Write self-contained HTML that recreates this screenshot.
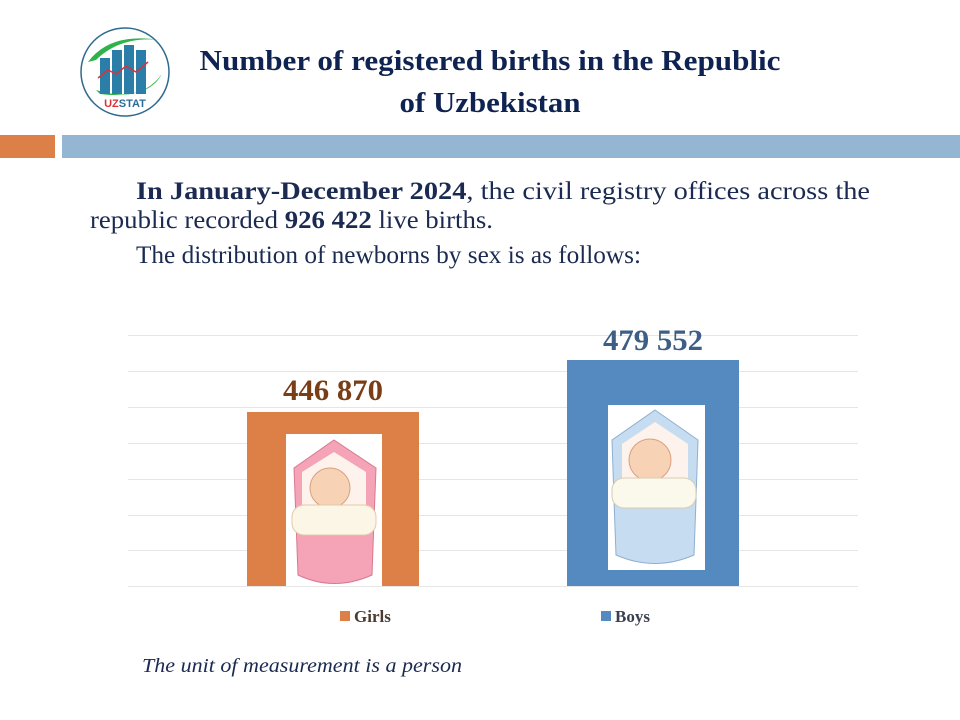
<!DOCTYPE html>
<html><head><meta charset="utf-8"><style>
html,body{margin:0;padding:0;background:#fff;}
svg{display:block;}
</style></head><body>
<svg width="960" height="720" viewBox="0 0 960 720" xmlns="http://www.w3.org/2000/svg" font-family="Liberation Serif, serif">
<rect width="960" height="720" fill="#fff"/>
<!-- logo -->
<circle cx="125" cy="72" r="44" fill="#fff" stroke="#2e6a8c" stroke-width="1.5"/>
<path d="M88 62 Q110 32 160 40 Q120 36 96 60 Z" fill="#2db34a"/>
<path d="M96 90 Q140 104 162 74 Q148 100 100 94 Z" fill="#2db34a"/>
<rect x="100" y="58" width="10" height="36" fill="#2a7ea8"/>
<rect x="112" y="50" width="10" height="44" fill="#2a7ea8"/>
<rect x="124" y="45" width="10" height="49" fill="#2a7ea8"/>
<rect x="136" y="50" width="10" height="44" fill="#2a7ea8"/>
<polyline points="98,78 108,70 116,74 126,66 136,72 148,62" fill="none" stroke="#d9333a" stroke-width="1.5"/>
<text x="125" y="107" text-anchor="middle" font-family="Liberation Sans, sans-serif" font-weight="bold" font-size="11"><tspan fill="#d9333a">UZ</tspan><tspan fill="#2a6d96">STAT</tspan></text>
<!-- title -->
<text x="490" y="70" text-anchor="middle" font-weight="bold" font-size="28" fill="#0f2352" textLength="581" lengthAdjust="spacingAndGlyphs">Number of registered births in the Republic</text>
<text x="490" y="112" text-anchor="middle" font-weight="bold" font-size="28" fill="#0f2352" textLength="181" lengthAdjust="spacingAndGlyphs">of Uzbekistan</text>
<rect x="0" y="135" width="55" height="23" fill="#dd8047"/>
<rect x="62" y="135" width="898" height="23" fill="#94b6d2"/>
<!-- body -->
<g font-size="25" fill="#1a2a50">
<text x="136" y="199" textLength="734" lengthAdjust="spacingAndGlyphs"><tspan font-weight="bold">In January-December 2024</tspan>, the civil registry offices across the</text>
<text x="90" y="228" textLength="403" lengthAdjust="spacingAndGlyphs">republic recorded <tspan font-weight="bold">926 422</tspan> live births.</text>
<text x="136" y="263" textLength="505" lengthAdjust="spacingAndGlyphs">The distribution of newborns by sex is as follows:</text>
</g>
<!-- grid -->
<g stroke="#e6e6e6" stroke-width="1">
<line x1="128" y1="335.5" x2="858" y2="335.5"/>
<line x1="128" y1="371.5" x2="858" y2="371.5"/>
<line x1="128" y1="407.5" x2="858" y2="407.5"/>
<line x1="128" y1="443.5" x2="858" y2="443.5"/>
<line x1="128" y1="479.5" x2="858" y2="479.5"/>
<line x1="128" y1="515.5" x2="858" y2="515.5"/>
<line x1="128" y1="550.5" x2="858" y2="550.5"/>
<line x1="128" y1="586.5" x2="858" y2="586.5"/>
</g>
<!-- bars -->
<rect x="247" y="412" width="172" height="174" fill="#dd8047"/>
<rect x="567" y="360" width="172" height="226" fill="#558ac0"/>
<!-- girl baby -->
<rect x="286" y="434" width="96" height="152" fill="#fff"/>
<path d="M334 440 L376 468 L374 520 L372 575 Q334 592 298 575 L296 520 L294 468 Z" fill="#f5a3b7" stroke="#d9788f"/>
<path d="M334 452 L366 472 L366 510 L302 510 L302 472 Z" fill="#fdf3ec"/>
<circle cx="330" cy="488" r="20" fill="#f7d2b5" stroke="#d9a080"/>
<rect x="292" y="505" width="84" height="30" rx="12" fill="#fbf6e6" stroke="#e3c9a8"/>
<!-- boy baby -->
<rect x="608" y="405" width="97" height="165" fill="#fff"/>
<path d="M655 410 L698 440 L696 500 L694 555 Q655 572 616 555 L614 500 L612 440 Z" fill="#c6dcf0" stroke="#8fb0d1"/>
<path d="M655 422 L688 444 L688 482 L622 482 L622 444 Z" fill="#fdf3ec"/>
<circle cx="650" cy="460" r="21" fill="#f7d2b5" stroke="#d9a080"/>
<rect x="612" y="478" width="84" height="30" rx="12" fill="#fbf8ec" stroke="#d8cdb0"/>
<!-- labels -->
<text x="333" y="400" text-anchor="middle" font-weight="bold" font-size="30" fill="#7a3e16" textLength="100" lengthAdjust="spacingAndGlyphs">446 870</text>
<text x="653" y="350" text-anchor="middle" font-weight="bold" font-size="30" fill="#3d5f86" textLength="100" lengthAdjust="spacingAndGlyphs">479 552</text>
<!-- legend -->
<rect x="340" y="611" width="10" height="10" fill="#dd8047"/>
<text x="354" y="622" font-weight="bold" font-size="17" fill="#4a3a30">Girls</text>
<rect x="601" y="611" width="10" height="10" fill="#558ac0"/>
<text x="615" y="622" font-weight="bold" font-size="17" fill="#3a4050">Boys</text>
<text x="142" y="672" font-style="italic" font-size="20" fill="#1a2a50" textLength="320" lengthAdjust="spacingAndGlyphs">The unit of measurement is a person</text>
</svg>
</body></html>
